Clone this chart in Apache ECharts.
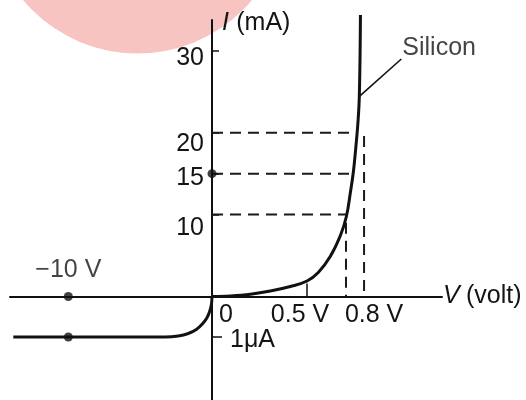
<!DOCTYPE html>
<html><head><meta charset="utf-8">
<script src="https://cdn.jsdelivr.net/npm/echarts@6/dist/echarts.min.js"></script>
<style>html,body{margin:0;padding:0;background:#fff}#chart{width:526px;height:400px}</style>
</head><body><div id="chart"></div>
<script>
// Forward characteristic of a silicon diode (V in volts, I in mA)
const forwardV = [0, 0.096, 0.202, 0.307, 0.412, 0.5, 0.559, 0.622, 0.675, 0.707, 0.728, 0.744, 0.757, 0.767, 0.775, 0.781];
const forwardI = [0, 0.073, 0.28, 0.67, 1.22, 1.89, 2.93, 4.88, 7.42, 9.77, 12.7, 15.26, 18.3, 21.0, 24.4, 34.37];
// Reverse characteristic (V in volts, I in µA)
const reverseV = [-13.83, -3.25, -2.35, -1.65, -1.09, -0.675, -0.36, -0.153, -0.035, 0];
const reverseI = [-1, -1, -0.975, -0.914, -0.815, -0.679, -0.53, -0.358, -0.185, 0];
// Tick positions
const currentTicks = [10, 15, 20, 30];
const voltTicks = [0, 0.5, 0.8];
const voltTickMarks = [0.5];
const reverseCurrentTicks = [-1];
// Reading guides: current level and where the horizontal guide meets the curve
const guideCurrents = [20, 15, 10];
const guideVolts = [0.762, 0.744, 0.708];
// Vertical drop lines: voltage and the current they start from
const dropVolts = [0.8, 0.705];
const dropCurrents = [19.6, 9];
// Marked points
const markedCurrent = 15;
const reverseMarkV = -10;
const reverseMarkI = [0, -1];
// Leader line for the curve name
const leaderV = [0.774, 0.996];
const leaderI = [24.4, 29.0];
const curveName = 'Silicon';

const INK = '#111';
const TEXT = '#141414';
const FONT = 'Liberation Sans';
const FS = 25;

// vertical nudges of the current labels (px, downward)
const yShift = {10: 14, 15: 4, 20: 11, 30: 7};
// horizontal nudges of the voltage labels (px, rightward)
const xShift = {0: 14, 0.5: -7, 0.8: 10};

const yRich = {};
currentTicks.forEach((v, i) => { yRich['y' + i] = {padding: [2 * yShift[v], 0, 0, 0], fontSize: FS, fontFamily: FONT, color: TEXT}; });
const xRich = {};
voltTicks.forEach((v, i) => {
  const s = xShift[v];
  xRich['x' + i] = {padding: s >= 0 ? [0, 0, 0, 2 * s] : [0, -2 * s, 0, 0], fontSize: FS, fontFamily: FONT, color: TEXT};
});

const dashed = {color: '#1a1a1a', width: 2, type: [11, 7]};
const guideSeries = guideCurrents.map((c, i) => ({
  type: 'line', xAxisIndex: 0, yAxisIndex: 0, symbol: 'none', silent: true,
  lineStyle: dashed, data: [[0, c], [guideVolts[i], c]], z: 1
}));
const dropSeries = dropVolts.map((v, i) => ({
  type: 'line', xAxisIndex: 0, yAxisIndex: 0, symbol: 'none', silent: true,
  lineStyle: dashed, data: [[v, dropCurrents[i]], [v, 0]], z: 1
}));

const chart = echarts.init(document.getElementById('chart'), null, {renderer: 'canvas'});
chart.setOption({
  animation: false,
  backgroundColor: '#fff',
  textStyle: {fontFamily: FONT},
  graphic: [{
    type: 'circle', z: -10, silent: true,
    shape: {cx: 137.5, cy: -95.8, r: 149.3},
    style: {fill: '#f8c4c1'}
  }],
  grid: [
    {left: 212, top: 20, width: 230, height: 276.5},
    {left: 10, top: 296.5, width: 202, height: 103.5}
  ],
  xAxis: [{
    gridIndex: 0, type: 'value', min: 0, max: 1.21,
    axisLine: {onZero: false, lineStyle: {color: INK, width: 2}},
    splitLine: {show: false},
    axisTick: {inside: true, length: 13, customValues: voltTickMarks, lineStyle: {color: INK, width: 1.5}},
    axisLabel: {
      customValues: voltTicks, margin: 6,
      formatter: v => { const i = voltTicks.indexOf(v); return '{x' + i + '|' + (v === 0 ? '0' : v + ' V') + '}'; },
      rich: xRich
    },
    name: '{i|V} {n|(volt)}', nameLocation: 'end', nameGap: 1,
    nameTextStyle: {verticalAlign: 'middle', align: 'left',
      rich: {i: {fontStyle: 'italic', fontSize: FS, fontFamily: FONT, color: TEXT},
             n: {fontSize: FS, fontFamily: FONT, color: TEXT, padding: [0, 0, 0, 3]}}}
  }, {
    gridIndex: 1, type: 'value', min: -14.06, max: 0, position: 'top',
    axisLine: {onZero: false, lineStyle: {color: INK, width: 2}},
    splitLine: {show: false}, axisTick: {show: false}, axisLabel: {show: false}
  }],
  yAxis: [{
    gridIndex: 0, type: 'value', min: 0, max: 33.76, position: 'left',
    axisLine: {onZero: false, lineStyle: {color: INK, width: 2}},
    splitLine: {show: false},
    axisTick: {inside: true, length: 7, customValues: currentTicks, lineStyle: {color: INK, width: 1.5}},
    axisLabel: {
      customValues: currentTicks, margin: 8,
      formatter: v => '{y' + currentTicks.indexOf(v) + '|' + v + '}',
      rich: yRich
    },
    name: '{i|I} {n|(mA)}', nameLocation: 'end', nameGap: -3,
    nameTextStyle: {align: 'left', verticalAlign: 'middle', padding: [0, 0, 0, 10],
      rich: {i: {fontStyle: 'italic', fontSize: FS, fontFamily: FONT, color: TEXT}, n: {fontSize: FS, fontFamily: FONT, color: TEXT, padding: [0, 0, 0, 4]}}}
  }, {
    gridIndex: 1, type: 'value', min: -2.556, max: 0, position: 'right',
    axisLine: {onZero: false, lineStyle: {color: INK, width: 2}},
    splitLine: {show: false},
    axisTick: {inside: false, length: 10, customValues: reverseCurrentTicks, lineStyle: {color: INK, width: 1.5}},
    axisLabel: {
      customValues: reverseCurrentTicks, margin: 18,
      formatter: v => '{u|' + Math.abs(v) + 'μA}',
      rich: {u: {padding: [6, 0, 0, 0], fontSize: FS, fontFamily: FONT, color: TEXT}}
    }
  }],
  series: [
    ...guideSeries,
    ...dropSeries,
    {
      type: 'line', name: 'forward', xAxisIndex: 0, yAxisIndex: 0, symbol: 'none', clip: false,
      smooth: 0.4, lineStyle: {color: INK, width: 3},
      data: forwardV.map((v, i) => [v, forwardI[i]]), z: 3
    },
    {
      type: 'line', name: 'reverse', xAxisIndex: 1, yAxisIndex: 1, symbol: 'none', clip: false,
      smooth: 0.2, lineStyle: {color: INK, width: 3},
      data: reverseV.map((v, i) => [v, reverseI[i]]), z: 3
    },
    {
      type: 'line', xAxisIndex: 0, yAxisIndex: 0, symbol: 'none', clip: false, silent: true,
      lineStyle: {color: INK, width: 1.6},
      data: leaderV.map((v, i) => [v, leaderI[i]])
    },
    {
      type: 'scatter', xAxisIndex: 0, yAxisIndex: 0, symbolSize: 0, clip: false, silent: true,
      data: [[leaderV[1], leaderI[1]]],
      label: {show: true, position: 'right', distance: 1, offset: [0, -11], formatter: curveName,
        fontSize: FS, fontFamily: FONT, color: TEXT}
    },
    {
      type: 'scatter', xAxisIndex: 0, yAxisIndex: 0, symbolSize: 9, clip: false,
      itemStyle: {color: INK}, data: [[0, markedCurrent]], z: 4
    },
    {
      type: 'scatter', xAxisIndex: 1, yAxisIndex: 1, symbolSize: 9, clip: false,
      itemStyle: {color: INK}, z: 4,
      data: reverseMarkI.map((c, i) => ({
        value: [reverseMarkV, c],
        label: {show: i === 0, position: 'top', distance: 9,
          formatter: '\u2212' + Math.abs(reverseMarkV) + ' V',
          fontSize: FS, fontFamily: FONT, color: TEXT}
      }))
    }
  ]
});
</script>
</body></html>
